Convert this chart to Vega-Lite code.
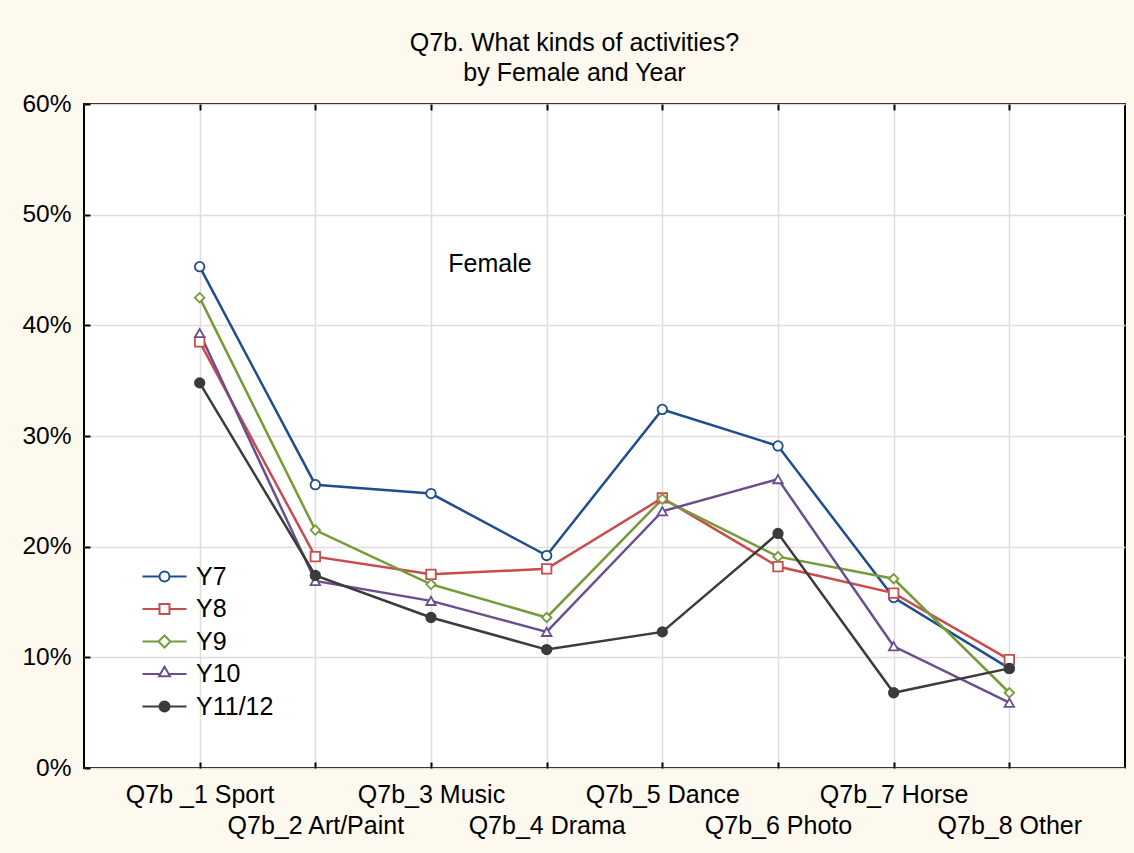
{
  "$schema": "https://vega.github.io/schema/vega-lite/v6.json",
  "autosize": "none",
  "width": 1041,
  "height": 664,
  "padding": {"left": 84, "top": 104, "right": 9, "bottom": 85},
  "background": "#fef9ef",
  "config": {
    "font": "Liberation Sans",
    "view": {"stroke": "#000000", "strokeWidth": 2, "fill": "#ffffff"},
    "axis": {"labelFont": "Liberation Sans", "labelColor": "#000000", "labelFontSize": 25, "gridColor": "#dedede", "gridWidth": 1.5, "tickColor": "#000000", "tickWidth": 2, "domain": false}
  },
  "title": {
    "text": ["Q7b. What kinds of activities?", "by Female and Year"],
    "font": "Liberation Sans",
    "fontSize": 25,
    "fontWeight": "normal",
    "color": "#000000",
    "lineHeight": 30,
    "anchor": "middle",
    "frame": "group",
    "dx": -30,
    "offset": 5
  },
  "data": {"values": [
    {"activity": "Q7b _1 Sport", "year": "Y7", "value": 0.453},
    {"activity": "Q7b_2 Art/Paint", "year": "Y7", "value": 0.256},
    {"activity": "Q7b_3 Music", "year": "Y7", "value": 0.248},
    {"activity": "Q7b_4 Drama", "year": "Y7", "value": 0.192},
    {"activity": "Q7b_5 Dance", "year": "Y7", "value": 0.324},
    {"activity": "Q7b_6 Photo", "year": "Y7", "value": 0.291},
    {"activity": "Q7b_7 Horse", "year": "Y7", "value": 0.154},
    {"activity": "Q7b_8 Other", "year": "Y7", "value": 0.090},
    {"activity": "Q7b _1 Sport", "year": "Y8", "value": 0.385},
    {"activity": "Q7b_2 Art/Paint", "year": "Y8", "value": 0.191},
    {"activity": "Q7b_3 Music", "year": "Y8", "value": 0.175},
    {"activity": "Q7b_4 Drama", "year": "Y8", "value": 0.180},
    {"activity": "Q7b_5 Dance", "year": "Y8", "value": 0.244},
    {"activity": "Q7b_6 Photo", "year": "Y8", "value": 0.182},
    {"activity": "Q7b_7 Horse", "year": "Y8", "value": 0.158},
    {"activity": "Q7b_8 Other", "year": "Y8", "value": 0.098},
    {"activity": "Q7b _1 Sport", "year": "Y9", "value": 0.425},
    {"activity": "Q7b_2 Art/Paint", "year": "Y9", "value": 0.215},
    {"activity": "Q7b_3 Music", "year": "Y9", "value": 0.166},
    {"activity": "Q7b_4 Drama", "year": "Y9", "value": 0.136},
    {"activity": "Q7b_5 Dance", "year": "Y9", "value": 0.243},
    {"activity": "Q7b_6 Photo", "year": "Y9", "value": 0.191},
    {"activity": "Q7b_7 Horse", "year": "Y9", "value": 0.171},
    {"activity": "Q7b_8 Other", "year": "Y9", "value": 0.068},
    {"activity": "Q7b _1 Sport", "year": "Y10", "value": 0.393},
    {"activity": "Q7b_2 Art/Paint", "year": "Y10", "value": 0.169},
    {"activity": "Q7b_3 Music", "year": "Y10", "value": 0.151},
    {"activity": "Q7b_4 Drama", "year": "Y10", "value": 0.123},
    {"activity": "Q7b_5 Dance", "year": "Y10", "value": 0.232},
    {"activity": "Q7b_6 Photo", "year": "Y10", "value": 0.261},
    {"activity": "Q7b_7 Horse", "year": "Y10", "value": 0.110},
    {"activity": "Q7b_8 Other", "year": "Y10", "value": 0.059},
    {"activity": "Q7b _1 Sport", "year": "Y11/12", "value": 0.348},
    {"activity": "Q7b_2 Art/Paint", "year": "Y11/12", "value": 0.174},
    {"activity": "Q7b_3 Music", "year": "Y11/12", "value": 0.136},
    {"activity": "Q7b_4 Drama", "year": "Y11/12", "value": 0.107},
    {"activity": "Q7b_5 Dance", "year": "Y11/12", "value": 0.123},
    {"activity": "Q7b_6 Photo", "year": "Y11/12", "value": 0.212},
    {"activity": "Q7b_7 Horse", "year": "Y11/12", "value": 0.068},
    {"activity": "Q7b_8 Other", "year": "Y11/12", "value": 0.090}
  ]},
  "resolve": {"axis": {"x": "independent"}},
  "layer": [
    {
      "mark": {"type": "line", "strokeWidth": 2.5},
      "encoding": {
        "x": {
          "field": "activity",
          "type": "nominal",
          "sort": null,
          "scale": {"type": "point", "padding": 1},
          "axis": {
            "title": null,
            "orient": "bottom",
            "labelAngle": 0,
            "labelOverlap": false,
            "labelFlush": false,
            "labelBound": false,
            "grid": true,
            "ticks": true,
            "tickSize": -6,
            "labelPadding": 20,
            "labelLineHeight": 31,
            "labelBaseline": "top",
            "labelExpr": "test(/_[2468] /, datum.value) ? ['', datum.label] : datum.label"
          }
        },
        "y": {
          "field": "value",
          "type": "quantitative",
          "scale": {"domain": [0, 0.6], "nice": false, "zero": true},
          "axis": {"title": null, "format": ".0%", "values": [0, 0.1, 0.2, 0.3, 0.4, 0.5, 0.6], "grid": true, "ticks": true, "tickSize": -6, "labelPadding": 19, "labelFontSize": 24.5}
        },
        "color": {
          "field": "year",
          "type": "nominal",
          "sort": ["Y7", "Y8", "Y9", "Y10", "Y11/12"],
          "scale": {"domain": ["Y7", "Y8", "Y9", "Y10", "Y11/12"], "range": ["#1f4e8c", "#c94c4c", "#779b3b", "#6b4f8c", "#3b3b3b"]},
          "legend": {
            "title": null,
            "orient": "none",
            "legendX": 68,
            "legendY": 460,
            "padding": 0,
            "labelFont": "Liberation Sans",
            "labelFontSize": 25,
            "labelColor": "#000000",
            "symbolSize": 100,
            "symbolStrokeWidth": 2,
            "labelOffset": 19,
            "rowPadding": 6.5,
            "encode": {
              "symbols": {
                "update": {
                  "shape": [
                    {"test": "datum.value === 'Y7'", "value": "M-4.4,0H-1M1,0H4.4M-1,0A1,1,0,1,1,1,0A1,1,0,1,1,-1,0Z"},
                    {"test": "datum.value === 'Y8'", "value": "M-4.4,0H-1M1,0H4.4M-1,-1H1V1H-1Z"},
                    {"test": "datum.value === 'Y9'", "value": "M-4.4,0H-1.2M1.2,0H4.4M-1.2,0L0,-1.2L1.2,0L0,1.2Z"},
                    {"test": "datum.value === 'Y10'", "value": "M-4.4,0H-0.8M0.8,0H4.4M-1.1,0.45L0,-1.45L1.1,0.45Z"},
                    {"value": "M-4.4,0H-1M1,0H4.4M-1,0A1,1,0,1,1,1,0A1,1,0,1,1,-1,0Z"}
                  ],
                  "fill": [
                    {"test": "datum.value === 'Y11/12'", "value": "#3b3b3b"},
                    {"value": "#ffffff"}
                  ],
                  "stroke": {"scale": "color", "field": "value"},
                  "strokeWidth": {"value": 2},
                  "opacity": {"value": 1}
                }
              }
            }
          }
        }
      }
    },
    {
      "mark": {"type": "point", "size": 90, "strokeWidth": 1.8, "opacity": 1},
      "encoding": {
        "x": {"field": "activity", "type": "nominal", "sort": null, "axis": null},
        "y": {"field": "value", "type": "quantitative"},
        "color": {"field": "year", "type": "nominal"},
        "shape": {
          "condition": [
            {"test": "datum.year === 'Y8'", "value": "square"},
            {"test": "datum.year === 'Y9'", "value": "diamond"},
            {"test": "datum.year === 'Y10'", "value": "triangle-up"}
          ],
          "value": "circle"
        },
        "fill": {
          "condition": {"test": "datum.year === 'Y11/12'", "value": "#3b3b3b"},
          "value": "#ffffff"
        }
      }
    },
    {
      "transform": [{"filter": "datum.year === 'Y7' && datum.activity === 'Q7b_3 Music'"}],
      "mark": {"type": "text", "font": "Liberation Sans", "fontSize": 25, "dx": 59, "align": "center", "baseline": "middle", "color": "#000000"},
      "encoding": {
        "x": {"field": "activity", "type": "nominal", "sort": null, "axis": {"orient": "top", "title": null, "labels": false, "grid": false, "ticks": true, "tickSize": -6, "domain": false}},
        "y": {"datum": 0.455},
        "text": {"value": "Female"}
      }
    }
  ]
}
